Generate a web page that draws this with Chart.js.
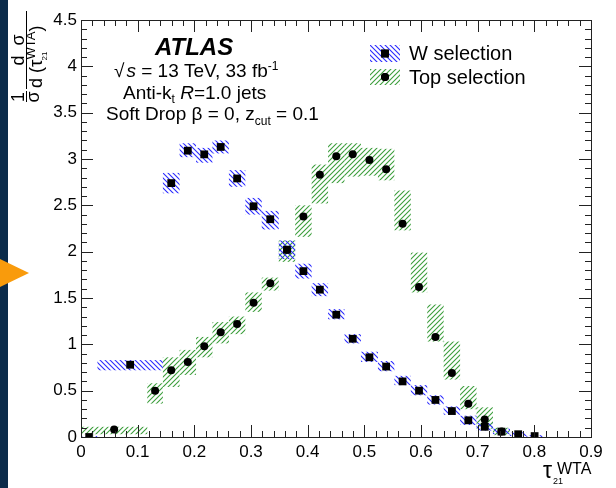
<!DOCTYPE html>
<html>
<head>
<meta charset="utf-8">
<script src="https://cdn.jsdelivr.net/npm/chart.js@4"></script>
<style>
  html, body { margin: 0; padding: 0; background: #fff; }
  #wrap { position: relative; width: 616px; height: 488px; }
</style>
</head>
<body>
<div id="wrap"><canvas id="chart" width="616" height="488"></canvas></div>
<script>
// W selection: bin edges, values and the hatched uncertainty band (low / high)
const wEdges = [0, 0.029, 0.1445, 0.174, 0.203, 0.232, 0.261, 0.290, 0.319, 0.349, 0.378, 0.407,
                0.436, 0.465, 0.494, 0.524, 0.553, 0.582, 0.611, 0.640, 0.669, 0.698, 0.727, 0.757, 0.786, 0.815];
const wValues = [0, 0.78, 2.74, 3.09, 3.05, 3.13, 2.79, 2.49, 2.35, 2.02, 1.79, 1.59, 1.32,
                 1.06, 0.86, 0.76, 0.60, 0.50, 0.40, 0.28, 0.18, 0.11, 0.058, 0.03, 0.01];
const wLow  = [0, 0.72, 2.63, 3.02, 2.96, 3.06, 2.70, 2.40, 2.24, 1.92, 1.71, 1.52, 1.27,
               1.01, 0.81, 0.71, 0.56, 0.45, 0.35, 0.24, 0.13, 0.07, 0.03, 0.01, 0.0];
const wHigh = [0.01, 0.83, 2.85, 3.17, 3.12, 3.20, 2.88, 2.58, 2.44, 2.12, 1.87, 1.66, 1.38,
               1.11, 0.92, 0.82, 0.66, 0.56, 0.45, 0.33, 0.23, 0.15, 0.09, 0.05, 0.02];

// Top selection
const topEdges = [0, 0.117, 0.1445, 0.174, 0.203, 0.232, 0.261, 0.290, 0.319, 0.349, 0.378, 0.407,
                  0.436, 0.465, 0.494, 0.524, 0.553, 0.582, 0.611, 0.640, 0.669, 0.698, 0.727, 0.757];
const topValues = [0.08, 0.50, 0.72, 0.81, 0.98, 1.13, 1.22, 1.45, 1.66, 2.02, 2.38, 2.83,
                   3.03, 3.05, 2.99, 2.89, 2.30, 1.62, 1.08, 0.69, 0.36, 0.19, 0.06];
const topLow  = [0.03, 0.36, 0.54, 0.67, 0.86, 1.01, 1.11, 1.35, 1.58, 1.89, 2.16, 2.52,
                 2.74, 2.81, 2.82, 2.77, 2.23, 1.56, 1.03, 0.62, 0.30, 0.09, 0.02];
const topHigh = [0.11, 0.58, 0.86, 0.94, 1.08, 1.24, 1.30, 1.56, 1.72, 2.12, 2.50, 2.94,
                 3.17, 3.17, 3.12, 3.11, 2.66, 1.99, 1.43, 1.03, 0.55, 0.32, 0.10];

const seriesNames = ['W selection', 'Top selection'];
const xMin = 0, xMax = 0.9, xStep = 0.1;
const yMin = 0, yMax = 4.5, yStep = 0.5;

const FONT = '"Liberation Sans", Arial, Helvetica, sans-serif';
const W_COLOR = '#2a2aff';
const TOP_COLOR = '#3c9e3c';

function toPoints(edges, values) {
    return values.map((v, i) => ({ x: (edges[i] + edges[i + 1]) / 2, y: v }));
}

function makeHatch(ctx, color, forward) {
    const s = 5;
    const c = document.createElement('canvas');
    c.width = s; c.height = s;
    const g = c.getContext('2d');
    g.strokeStyle = color;
    g.lineWidth = 1.1;
    g.beginPath();
    if (forward) {
        g.moveTo(0, s); g.lineTo(s, 0);
        g.moveTo(-1, 1); g.lineTo(1, -1);
        g.moveTo(s - 1, s + 1); g.lineTo(s + 1, s - 1);
    } else {
        g.moveTo(0, 0); g.lineTo(s, s);
        g.moveTo(-1, s - 1); g.lineTo(1, s + 1);
        g.moveTo(s - 1, -1); g.lineTo(s + 1, 1);
    }
    g.stroke();
    return ctx.createPattern(c, 'repeat');
}

// hatched error boxes, drawn under the markers
const bandsPlugin = {
    id: 'bands',
    beforeDatasetsDraw(chart) {
        const ctx = chart.ctx;
        const xs = chart.scales.x, ys = chart.scales.y;
        const area = chart.chartArea;
        const bands = [
            { edges: topEdges, lo: topLow, hi: topHigh, fill: makeHatch(ctx, TOP_COLOR, true) },
            { edges: wEdges, lo: wLow, hi: wHigh, fill: makeHatch(ctx, W_COLOR, false) }
        ];
        ctx.save();
        ctx.beginPath();
        ctx.rect(area.left, area.top, area.right - area.left, area.bottom - area.top);
        ctx.clip();
        bands.forEach(b => {
            ctx.fillStyle = b.fill;
            for (let i = 0; i < b.lo.length; i++) {
                const x0 = xs.getPixelForValue(b.edges[i]);
                const x1 = xs.getPixelForValue(b.edges[i + 1]);
                const y0 = ys.getPixelForValue(b.hi[i]);
                const y1 = ys.getPixelForValue(b.lo[i]);
                ctx.fillRect(x0, y0, x1 - x0, Math.max(y1 - y0, 1));
            }
        });
        ctx.restore();
    }
};

// draw a line of text made of several runs (sub/superscripts, italics)
function drawRuns(ctx, x, y, runs) {
    let cx = x;
    runs.forEach(r => {
        ctx.font = r.font;
        ctx.fillText(r.t, cx, y + (r.dy || 0));
        cx += ctx.measureText(r.t).width + (r.gap || 0);
    });
    return cx;
}

const decorPlugin = {
    id: 'decor',
    beforeDraw(chart) {
        const ctx = chart.ctx;
        ctx.save();
        ctx.fillStyle = '#fff';
        ctx.fillRect(0, 0, chart.width, chart.height);
        ctx.restore();
    },
    afterDraw(chart) {
        const ctx = chart.ctx;
        const xs = chart.scales.x, ys = chart.scales.y;
        const a = chart.chartArea;
        ctx.save();

        // frame and inward ticks on all four sides
        ctx.strokeStyle = '#222';
        ctx.lineWidth = 1;
        ctx.strokeRect(Math.round(a.left) + 0.5, Math.round(a.top) + 0.5,
                       Math.round(a.right - a.left), Math.round(a.bottom - a.top));
        ctx.beginPath();
        for (let i = 0; i <= 45; i++) {
            const px = Math.round(xs.getPixelForValue(i * 0.02)) + 0.5;
            const len = i % 5 === 0 ? 12 : 6;
            ctx.moveTo(px, a.bottom); ctx.lineTo(px, a.bottom - len);
            ctx.moveTo(px, a.top); ctx.lineTo(px, a.top + len);
        }
        for (let i = 0; i <= 45; i++) {
            const py = Math.round(ys.getPixelForValue(i * 0.1)) + 0.5;
            const len = i % 5 === 0 ? 12 : 6;
            ctx.moveTo(a.left, py); ctx.lineTo(a.left + len, py);
            ctx.moveTo(a.right, py); ctx.lineTo(a.right - len, py);
        }
        ctx.stroke();

        // ATLAS label block
        ctx.fillStyle = '#000';
        ctx.textBaseline = 'alphabetic';
        ctx.textAlign = 'left';
        ctx.font = 'italic bold 24px ' + FONT;
        ctx.fillText('ATLAS', 155, 55);
        const f = '19px ' + FONT, fi = 'italic 19px ' + FONT, fs = '12px ' + FONT;
        drawRuns(ctx, 114, 77, [{ t: '\u221A', font: f, gap: 2 }, { t: 's', font: fi }, { t: ' = 13 TeV, 33 fb', font: f }, { t: '-1', font: fs, dy: -7 }]);
        drawRuns(ctx, 123, 99, [{ t: 'Anti-k', font: f }, { t: 't', font: fs, dy: 4 }, { t: ' ', font: f }, { t: 'R', font: fi }, { t: '=1.0 jets', font: f }]);
        drawRuns(ctx, 106, 120, [{ t: 'Soft Drop \u03B2 = 0, z', font: f }, { t: 'cut', font: fs, dy: 5 }, { t: ' = 0.1', font: f }]);

        // legend
        const legend = [
            { y: 45, h: 17, fill: makeHatch(ctx, W_COLOR, false), style: 'rect', r: 5.5 },
            { y: 69, h: 16, fill: makeHatch(ctx, TOP_COLOR, true), style: 'circle', r: 4 }
        ];
        legend.forEach((l, i) => {
            ctx.fillStyle = l.fill;
            ctx.fillRect(370, l.y, 30, l.h);
            ctx.fillStyle = '#000';
            Chart.helpers.drawPoint(ctx, { pointStyle: l.style, radius: l.r, borderWidth: 0 }, 385, l.y + l.h / 2);
            ctx.fill();
            ctx.font = '20px ' + FONT;
            ctx.fillText(seriesNames[i], 409, l.y + 15);
        });

        // x axis title
        ctx.font = '23px ' + FONT;
        ctx.fillText('\u03C4', 543, 478);
        ctx.font = '16px ' + FONT;
        ctx.fillText('WTA', 557, 474);
        ctx.font = '9px ' + FONT;
        ctx.fillText('21', 553, 484);

        // y axis title, rotated
        ctx.save();
        ctx.translate(26, 101);
        ctx.rotate(-Math.PI / 2);
        ctx.textAlign = 'center';
        ctx.font = '18px ' + FONT;
        ctx.fillText('1', 4, -2);
        ctx.fillText('\u03C3', 4, 13);
        ctx.fillText('d  \u03C3', 51, -2);
        ctx.beginPath();
        ctx.moveTo(-1, 0.5); ctx.lineTo(10, 0.5);
        ctx.moveTo(12, 0.5); ctx.lineTo(90, 0.5);
        ctx.lineWidth = 1;
        ctx.strokeStyle = '#000';
        ctx.stroke();
        ctx.textAlign = 'left';
        let u = drawRuns(ctx, 13, 16, [{ t: 'd (', font: '18px ' + FONT }, { t: '\u03C4', font: '19px ' + FONT }]);
        ctx.font = '8px ' + FONT;
        ctx.fillText('21', u - 1, 21);
        ctx.font = '13px ' + FONT;
        ctx.fillText('WTA', u, 9);
        u += ctx.measureText('WTA').width;
        ctx.font = '18px ' + FONT;
        ctx.fillText(')', u, 16);
        ctx.restore();

        // left strip and orange marker
        ctx.fillStyle = '#0b2b4a';
        ctx.fillRect(0, 0, 8, chart.height);
        ctx.fillStyle = '#f99b0c';
        ctx.beginPath();
        ctx.moveTo(0, 259); ctx.lineTo(29, 273); ctx.lineTo(0, 287);
        ctx.closePath();
        ctx.fill();

        ctx.restore();
    }
};

const tickFont = { family: FONT, size: 17 };

new Chart(document.getElementById('chart').getContext('2d'), {
    type: 'scatter',
    data: {
        datasets: [
            {
                label: seriesNames[0],
                data: toPoints(wEdges, wValues),
                pointStyle: 'rect',
                pointRadius: 5.5,
                backgroundColor: '#000',
                borderColor: '#000',
                borderWidth: 0
            },
            {
                label: seriesNames[1],
                data: toPoints(topEdges, topValues),
                pointStyle: 'circle',
                pointRadius: 4,
                backgroundColor: '#000',
                borderColor: '#000',
                borderWidth: 0
            }
        ]
    },
    options: {
        responsive: false,
        animation: false,
        layout: { padding: { left: 0, top: 20, right: 25, bottom: 0 } },
        plugins: {
            legend: { display: false },
            tooltip: { enabled: false }
        },
        scales: {
            x: {
                type: 'linear',
                min: xMin,
                max: xMax,
                ticks: { stepSize: xStep, padding: 5, color: '#000', font: tickFont, maxRotation: 0,
                         callback: v => String(+v.toFixed(1)) },
                grid: { display: false, drawTicks: false },
                border: { display: false },
                afterFit(scale) { scale.height = 51; }
            },
            y: {
                type: 'linear',
                min: yMin,
                max: yMax,
                ticks: { stepSize: yStep, padding: 4, color: '#000', font: tickFont,
                         callback: v => String(+v.toFixed(1)) },
                grid: { display: false, drawTicks: false },
                border: { display: false },
                afterFit(scale) { scale.width = 81; }
            }
        }
    },
    plugins: [bandsPlugin, decorPlugin]
});
</script>
</body>
</html>
